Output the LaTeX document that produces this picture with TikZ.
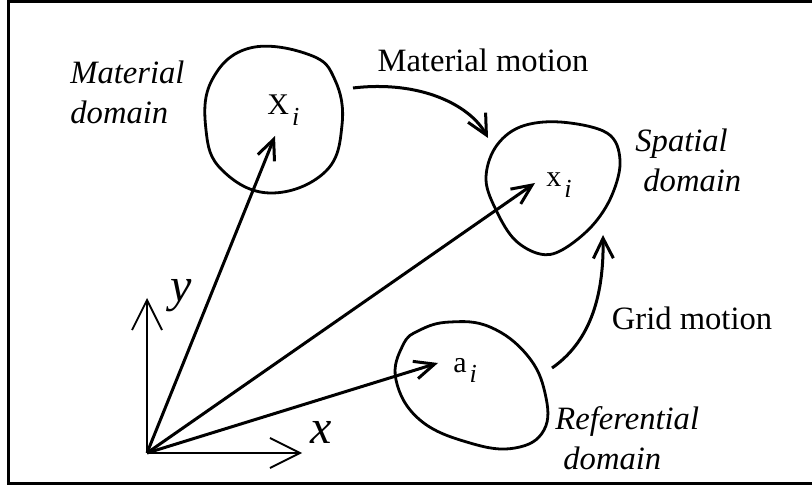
\documentclass[tikz,border=0pt]{standalone}
\usepackage{fontspec}
\setmainfont{Liberation Serif}
\usetikzlibrary{arrows.meta}
\newcommand{\subidx}[1]{\hspace{1.5pt}\raisebox{-5.5pt}{\fontsize{13}{15}\selectfont\itshape #1}}

\begin{document}
\begin{tikzpicture}[x=0.5pt,y=-0.5pt,
  txt/.style={inner sep=0pt,font=\fontsize{16.3}{20}\selectfont},
  lbl/.style={inner sep=0pt,anchor=base west},
  blob/.style={line width=1.4pt,line join=round},
  axis/.style={line width=0.9pt,-{Straight Barb[length=15pt,width=15pt]}},
  vec/.style={line width=1.5pt,-{Straight Barb[length=10pt,width=9pt]}},
  motion/.style={line width=1.5pt,-{Straight Barb[length=10pt,width=10pt]}}]
  \clip (0,0) rectangle (812,485);
  % frame
  \draw[line width=1.5pt] (8.5,1.5) rectangle (830,483.5);
  % domains
  \draw[blob] plot[smooth cycle,tension=0.7] coordinates {(250,48) (310,55) (335,80) (342,125)
    (325,172) (270,193) (222,170) (206,130) (212,80)};
  \draw[blob] plot[smooth cycle,tension=0.6] coordinates {(560,122) (607,133) (620,160) (612,195)
    (592,226) (562,250) (540,254) (515,240) (497,212) (486,180) (495,148) (520,127)};
  \draw[blob] plot[smooth cycle,tension=0.7] coordinates {(420,330) (450,322) (490,327) (527,355)
    (545,393) (544,430) (515,448) (470,443) (420,420) (396,380) (403,345)};
  % axes
  \coordinate (O) at (147,453);
  \coordinate (yend) at (147,298);
  \coordinate (xend) at (302,453);
  \draw[axis] (O) -- (yend);
  \draw[axis] (O) -- (xend);
  \node[lbl,anchor=base,font=\fontsize{24}{28}\selectfont\itshape] (ylab) at (181,302) {y};
  \node[lbl,anchor=base,font=\fontsize{24}{28}\selectfont\itshape] (xlab) at (321,443) {x};
  % position vectors
  \coordinate (tipX) at (275,136);
  \coordinate (tipx) at (535,183);
  \coordinate (tipa) at (438,363);
  \draw[vec] (O) -- (tipX);
  \draw[vec] (O) -- (tipx);
  \draw[vec] (O) -- (tipa);
  \node[lbl] (Xi) at (267,115) {\fontsize{15}{18}\selectfont X\subidx{i}};
  \node[lbl] (xi) at (546,187) {\fontsize{15}{18}\selectfont x\subidx{i}};
  \node[lbl] (ai) at (453,372) {\fontsize{15}{18}\selectfont a\subidx{i}};
  % motions
  \coordinate (mat0) at (353,88);
  \coordinate (mat1) at (488,138);
  \draw[motion] (mat0) .. controls (420,80) and (470,105) .. (mat1);
  \coordinate (grid0) at (552,368);
  \coordinate (grid1) at (603,235);
  \draw[motion] (grid0) .. controls (588,343) and (604,300) .. (grid1);
  \node[txt,anchor=base] (matmot) at (483,72) {Material motion};
  \node[txt,anchor=base] (gridmot) at (692,330) {Grid motion};
  % domain names
  \node[txt,anchor=west,align=left,font=\fontsize{16.3}{20}\selectfont\itshape] (matdom) at (70,92)
    {Material\\domain};
  \node[txt,anchor=west,align=left,font=\fontsize{16.3}{20}\selectfont\itshape] (spadom) at (635,160)
    {Spatial\\\hspace*{4pt}domain};
  \node[txt,anchor=west,align=left,font=\fontsize{16.3}{20}\selectfont\itshape] (refdom) at (555,438)
    {Referential\\\hspace*{4pt}domain};
\end{tikzpicture}
\end{document}
